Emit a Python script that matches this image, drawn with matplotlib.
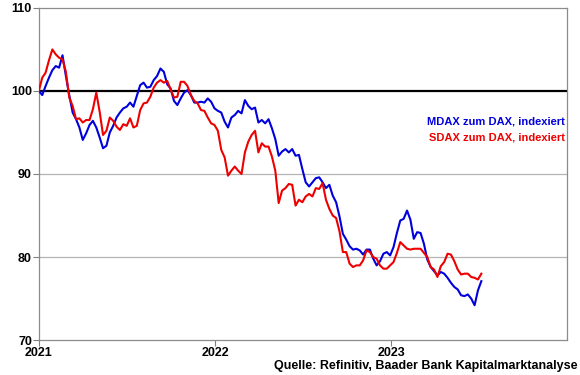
import matplotlib
matplotlib.use("Agg")
import matplotlib.pyplot as plt
import pandas as pd

plt.rcParams["font.family"] = ["Liberation Sans", "DejaVu Sans"]

# weekly readings, Jan 2021 - Jul 2023 (indexed, start = 100)
dates = pd.date_range("2021-01-01", periods=132, freq="7D")

mdax = [
    100.0, 99.5, 100.6, 101.6, 102.5, 103.0, 102.8, 104.3, 101.8, 99.5,
    97.4, 96.6, 95.6, 94.1, 94.9, 95.9, 96.4, 95.6, 94.4, 93.1,
    93.4, 95.0, 95.8, 96.8, 97.4, 97.9, 98.1, 98.6, 98.1, 99.4,
    100.7, 101.0, 100.4, 100.5, 101.3, 101.8, 102.7, 102.3, 100.8, 100.3,
    98.8, 98.3, 99.1, 99.8, 100.1, 99.5, 98.6, 98.6, 98.7, 98.6,
    99.1, 98.7, 97.9, 97.6, 97.4, 96.3, 95.6, 96.8, 97.1, 97.6,
    97.3, 98.9, 98.2, 97.8, 98.0, 96.2, 96.5, 96.1, 96.6, 95.5,
    94.2, 92.2, 92.7, 93.0, 92.6, 93.0, 92.2, 92.3, 90.6, 89.0,
    88.5, 89.0, 89.5, 89.6, 89.0, 88.3, 88.7, 87.4, 86.6, 84.9,
    82.8, 82.1, 81.3, 80.9, 81.0, 80.8, 80.3, 80.9, 80.9, 79.8,
    79.0, 79.5, 80.4, 80.6, 80.2, 81.2, 82.9, 84.4, 84.6, 85.6,
    84.5, 82.2, 83.0, 82.9, 81.6, 79.7, 78.8, 78.3, 77.8, 78.2,
    78.0, 77.5, 76.9, 76.4, 76.1, 75.4, 75.3, 75.5, 75.0, 74.2,
    76.0, 77.1,
]

sdax = [
    100.0, 101.6, 102.2, 103.7, 105.0, 104.4, 104.0, 103.8, 102.3, 99.2,
    98.2, 96.6, 96.7, 96.2, 96.5, 96.5, 97.8, 99.8, 97.5, 94.7,
    95.2, 96.8, 96.4, 95.7, 95.3, 96.0, 95.8, 96.7, 95.6, 95.8,
    97.7, 98.5, 98.6, 99.3, 100.4, 101.0, 101.3, 101.0, 101.2, 100.2,
    99.2, 99.3, 101.1, 101.1, 100.6, 99.5, 98.8, 98.5, 97.7, 97.6,
    96.8, 96.1, 95.9, 95.2, 92.9, 92.0, 89.8, 90.4, 90.9, 90.4,
    90.0, 92.6, 93.9, 94.7, 95.2, 92.6, 93.7, 93.3, 93.3, 92.1,
    90.4, 86.5, 88.0, 88.3, 88.8, 88.7, 86.2, 86.9, 86.6, 87.3,
    87.6, 87.3, 88.3, 88.2, 88.9, 86.9, 85.8, 85.0, 84.7, 83.1,
    80.6, 80.6, 79.2, 78.8, 79.0, 79.0, 79.6, 80.8, 80.6, 80.0,
    79.8, 79.0, 78.6, 78.6, 79.0, 79.4, 80.5, 81.8, 81.4, 81.0,
    80.9, 81.0, 81.0, 81.0, 80.5, 80.0, 78.8, 78.5, 77.6, 78.9,
    79.4, 80.4, 80.3, 79.5, 78.5, 77.9, 78.0, 78.0, 77.6, 77.5,
    77.3, 78.0,
]

years = ["2021", "2022", "2023"]
yticks = [70, 80, 90, 100, 110]

fig = plt.figure(figsize=(5.8, 3.75), dpi=100)
ax = fig.add_axes([0.067, 0.093, 0.911, 0.886])

# grid lines and the 100 reference line
for y in [80, 90]:
    ax.axhline(y, color="#b4b4b4", lw=0.9, zorder=1)
ax.axhline(100, color="black", lw=1.6, zorder=2)

ax.plot(dates, mdax, color="#0000dd", lw=1.5, zorder=3)
ax.plot(dates, sdax, color="#ee0000", lw=1.5, zorder=3)

ax.set_xlim(pd.Timestamp("2021-01-01"), pd.Timestamp("2024-01-01"))
ax.set_ylim(70, 110)
ax.set_yticks(yticks)
ax.set_yticklabels([str(v) for v in yticks], fontweight="bold", fontsize=9)
ax.set_xticks([pd.Timestamp(y + "-01-01") for y in years])
ax.set_xticklabels(years, fontweight="bold", fontsize=9)
ax.tick_params(axis="both", length=4, width=0.8, color="#808080", pad=1)

for side in ["left", "right", "top", "bottom"]:
    ax.spines[side].set_color("#8c8c8c")
    ax.spines[side].set_linewidth(0.9)

fig.text(0.974, 0.677, "MDAX zum DAX, indexiert", color="#0000dd",
         fontweight="bold", fontsize=8, ha="right", va="center")
fig.text(0.974, 0.632, "SDAX zum DAX, indexiert", color="#ee0000",
         fontweight="bold", fontsize=8, ha="right", va="center")
fig.text(0.995, 0.024, "Quelle: Refinitiv, Baader Bank Kapitalmarktanalyse",
         fontweight="bold", fontsize=9, ha="right", va="center")

fig.savefig("out.png", dpi=100)
